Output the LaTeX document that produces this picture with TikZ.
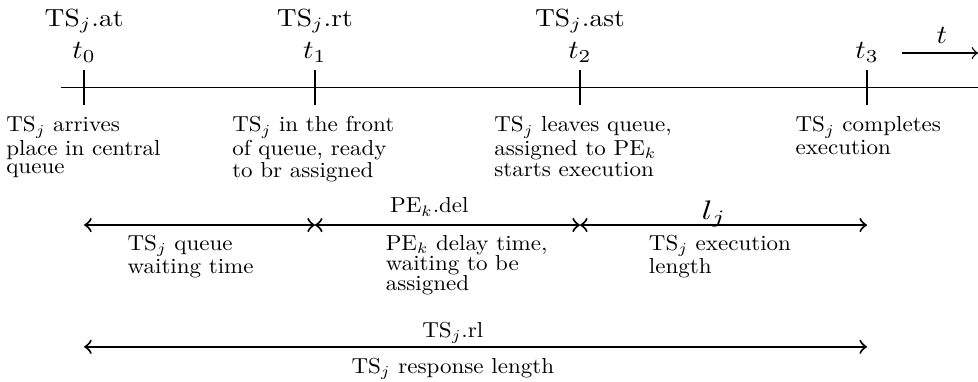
\documentclass[tikz,border=0pt]{standalone}
\usepackage{amssymb,amsmath}
\usepackage{tikz}

\begin{document}
\begin{tikzpicture}
\useasboundingbox (0,0) rectangle (10,3.896);

% time axis
\coordinate (S) at (0.62,3);
\coordinate (E) at (10,3);
\coordinate (A) at (0.86,3);
\coordinate (B) at (3.22,3);
\coordinate (C) at (5.93,3);
\coordinate (D) at (8.865,3);
\coordinate (tS) at (9.22,3.354);
\coordinate (tE) at (10,3.354);
\draw (S) -- (E);
\foreach \n in {A,B,C,D}
    \draw (\n) ++(0,0.18) -- ++(0,-0.36);

\begin{scope}[every node/.style={anchor=base,xscale=0.8,yscale=0.72}]
    \node (TA) at (0.86,3.63) {TS$_j$.at};
    \node (TB) at (3.22,3.63) {TS$_j$.rt};
    \node (TC) at (5.93,3.63) {TS$_j$.ast};
\end{scope}
\begin{scope}[every node/.style={anchor=base,xscale=0.84,yscale=0.76}]
    \node (tA) at (0.86,3.30) {$t_0$};
    \node (tB) at (3.22,3.30) {$t_1$};
    \node (tC) at (5.93,3.30) {$t_2$};
    \node (tD) at (8.865,3.30) {$t_3$};
    \node (tt) at (9.63,3.456) {$t$};
\end{scope}
\draw[->] (tS) -- (tE);

\begin{scope}[every node/.style={font=\fontsize{10}{8.6}\selectfont,
              anchor=north west,align=left,inner sep=0pt,xscale=0.67,yscale=0.63}]
    \node (DA) at (0.06,2.709) {TS$_j$ arrives\\place in central\\queue};
    \node (DB) at (2.37,2.709) {TS$_j$ in the front\\of queue, ready\\to br assigned};
    \node (DC) at (5.05,2.709) {TS$_j$ leaves queue,\\assigned to PE$_k$\\starts execution};
    \node (DD) at (8.13,2.709) {TS$_j$ completes\\execution};
    \node[font=\fontsize{10}{9.25}\selectfont] (wq) at (1.30,1.495) {TS$_j$ queue\\waiting time};
    \node[font=\fontsize{10}{9.25}\selectfont] (wd) at (3.94,1.495) {PE$_k$ delay time,\\waiting to be\\assigned};
    \node[font=\fontsize{10}{9.25}\selectfont] (wl) at (6.63,1.495) {TS$_j$ execution\\length};
\end{scope}

% intervals
\coordinate (A1) at (0.86,1.595);
\coordinate (B1) at (3.22,1.595);
\coordinate (C1) at (5.93,1.595);
\coordinate (D1) at (8.865,1.595);
\coordinate (A2) at (0.86,0.35);
\coordinate (D2) at (8.865,0.35);

\begin{scope}[every edge/.style={draw=black,semithick,<->}]
    \path (A1) edge (B1);
    \path (B1) edge (C1);
    \path (C1) edge (D1);
    \path (A2) edge (D2);
\end{scope}

\begin{scope}[every node/.style={anchor=base,xscale=0.67,yscale=0.63}]
    \node (del) at (4.39,1.72) {PE$_k$.del};
    \node (rl) at (4.63,0.45) {TS$_j$.rl};
    \node (resp) at (4.63,0.082) {TS$_j$ response length};
\end{scope}
\node[anchor=base,xscale=1,yscale=0.78] (lj) at (7.30,1.65) {$l_j$};
\end{tikzpicture}
\end{document}
